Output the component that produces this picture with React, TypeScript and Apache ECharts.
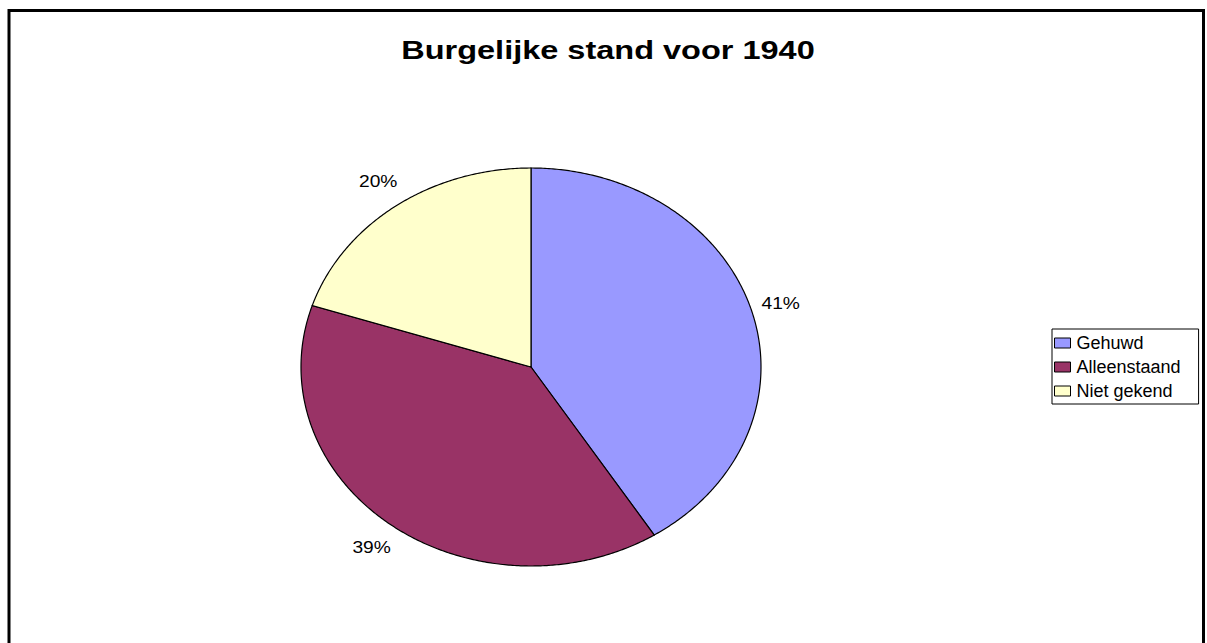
import React, { useEffect, useRef } from "react";
import * as echarts from "echarts";

const categories = ["Gehuwd", "Alleenstaand", "Niet gekend"];
const values = [41, 39, 20];
const colors = ["#9999FF", "#993366", "#FFFFCC"];
const titleText = "Burgelijke stand voor 1940";

const FONT = "'Liberation Sans', Arial, Helvetica, sans-serif";

export default function App() {
  const ref = useRef<HTMLDivElement>(null);
  useEffect(() => {
    const chart = echarts.init(ref.current as HTMLDivElement, null, { renderer: "svg" });
    const total = values.reduce((a, b) => a + b, 0);
    const cx = 531, cy = 367, rx = 230, ry = 199, labelGap = 30;

    const series = categories.map((name, i) => ({
      type: "custom",
      name,
      coordinateSystem: "none",
      itemStyle: { color: colors[i] },
      data: [values[i]],
      renderItem: (params: any, api: any) => {
        const v = api.value(0) as number;
        const before = values.slice(0, i).reduce((a, b) => a + b, 0);
        const a0 = (before / total) * 2 * Math.PI;
        const a1 = ((before + v) / total) * 2 * Math.PI;
        const pts: number[][] = [[cx, cy]];
        const steps = Math.max(2, Math.ceil((a1 - a0) / (Math.PI / 360)));
        for (let k = 0; k <= steps; k++) {
          const t = a0 + ((a1 - a0) * k) / steps;
          pts.push([cx + rx * Math.sin(t), cy - ry * Math.cos(t)]);
        }
        const m = (a0 + a1) / 2;
        const pct = Math.round((v / total) * 100) + "%";
        return {
          type: "group",
          children: [
            {
              type: "polygon",
              shape: { points: pts },
              style: { fill: colors[i], stroke: "#000", lineWidth: 1.2 },
            },
            {
              type: "text",
              x: cx + (rx + labelGap) * Math.sin(m),
              y: cy - (ry + labelGap) * Math.cos(m),
              scaleX: 1.2,
              style: {
                text: pct,
                fontSize: 16,
                fontFamily: FONT,
                fill: "#000",
                align: "center",
                verticalAlign: "middle",
              },
            },
          ],
        };
      },
    }));

    chart.setOption({
      animation: false,
      backgroundColor: "#fff",
      legend: {
        orient: "vertical",
        left: 1052,
        top: 329,
        padding: [5, 18, 4, 2],
        itemGap: 6,
        itemWidth: 16,
        itemHeight: 10,
        icon: "rect",
        borderColor: "#000",
        borderWidth: 1,
        selectedMode: false,
        itemStyle: { borderColor: "#000", borderWidth: 1 },
        textStyle: { fontSize: 18, fontFamily: FONT, color: "#000", padding: [0, 0, 0, 1] },
        data: categories.map((name, i) => ({ name, itemStyle: { color: colors[i] } })),
      },
      graphic: [
        {
          type: "rect",
          shape: { x: 9, y: 10.5, width: 1194.5, height: 700 },
          style: { fill: "none", stroke: "#000", lineWidth: 3 },
          silent: true,
        },
        {
          type: "text",
          x: 608,
          y: 50,
          scaleX: 1.3,
          style: {
            text: titleText,
            font: "bold 25px " + FONT,
            fill: "#000",
            align: "center",
            verticalAlign: "middle",
          },
        },
      ],
      series,
    });
    return () => chart.dispose();
  }, []);
  return (
    <div
      ref={ref}
      style={{ position: "absolute", left: 0, top: 0, width: 1207, height: 643 }}
    />
  );
}
